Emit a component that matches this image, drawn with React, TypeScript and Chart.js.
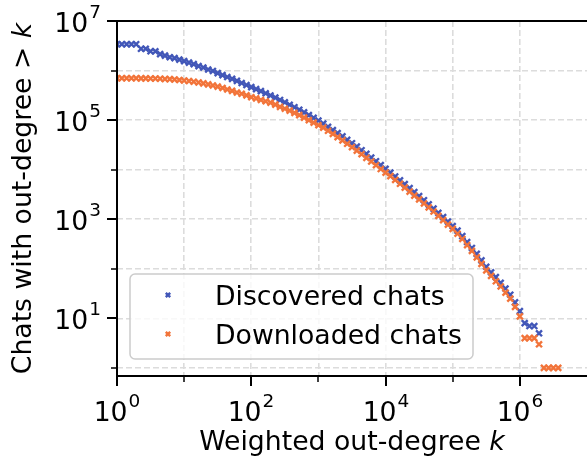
import React, { useEffect, useRef } from "react";
import { Chart, registerables } from "chart.js";

Chart.register(...registerables);

// ---------- data ----------
const degreeK = [
  1, 1.18, 1.39, 1.64, 1.93, 2.28, 2.68, 3.16, 3.73, 4.39, 5.18, 6.11, 7.2, 8.48,
  10, 11.8, 13.9, 16.4, 19.3, 22.8, 26.8, 31.6, 37.3, 43.9, 51.8, 61.1, 72, 84.8,
  100, 118, 139, 164, 193, 228, 268, 316, 373, 439, 518, 611, 720, 848,
  1000, 1180, 1390, 1640, 1930, 2280, 2680, 3160, 3730, 4390, 5180, 6110, 7200, 8480,
  1e4, 1.18e4, 1.39e4, 1.64e4, 1.93e4, 2.28e4, 2.68e4, 3.16e4, 3.73e4, 4.39e4, 5.18e4, 6.11e4, 7.2e4, 8.48e4,
  1e5, 1.18e5, 1.39e5, 1.64e5, 1.93e5, 2.28e5, 2.68e5, 3.16e5, 3.73e5, 4.39e5, 5.18e5, 6.11e5, 7.2e5, 8.48e5,
  1e6, 1.18e6, 1.39e6, 1.64e6, 1.93e6, 2.28e6, 2.68e6, 3.16e6, 3.73e6,
];

const discoveredChats = [
  3.4e6, 3.4e6, 3.4e6, 3.4e6, 3.4e6, 2.75e6, 2.75e6, 2.45e6, 2.45e6, 2.14e6, 2.0e6, 1.86e6, 1.78e6, 1.66e6,
  1.55e6, 1.45e6, 1.35e6, 1.23e6, 1.15e6, 1.05e6, 9.8e5, 8.9e5, 8.1e5, 7.4e5, 6.8e5, 6.2e5, 5.6e5, 5.1e5,
  4.62e5, 4.22e5, 3.84e5, 3.48e5, 3.14e5, 2.84e5, 2.55e5, 2.29e5, 2.04e5, 1.82e5, 1.62e5, 1.43e5, 1.26e5, 1.11e5,
  9.8e4, 8.5e4, 7.3e4, 6.3e4, 5.46e4, 4.69e4, 4.0e4, 3.42e4, 2.91e4, 2.47e4, 2.08e4, 1.76e4, 1.48e4, 1.24e4,
  1.04e4, 8.7e3, 7.3e3, 6.1e3, 5.1e3, 4.24e3, 3.52e3, 2.92e3, 2.42e3, 1.99e3, 1.64e3, 1.34e3, 1.1e3, 900,
  730, 590, 457, 347, 263, 200, 148, 110, 85, 68, 52, 40, 30, 21,
  14, 8, 7, 7, 5,
];

const downloadedChats = [
  7.0e5, 7.0e5, 7.0e5, 7.0e5, 7.0e5, 6.95e5, 6.95e5, 6.9e5, 6.9e5, 6.85e5, 6.75e5, 6.7e5, 6.6e5, 6.45e5,
  6.3e5, 6.15e5, 5.95e5, 5.75e5, 5.5e5, 5.25e5, 5.0e5, 4.75e5, 4.45e5, 4.15e5, 3.9e5, 3.6e5, 3.4e5, 3.15e5,
  2.9e5, 2.75e5, 2.55e5, 2.4e5, 2.25e5, 2.05e5, 1.85e5, 1.7e5, 1.55e5, 1.4e5, 1.26e5, 1.12e5, 1.0e5, 8.9e4,
  7.9e4, 7.06e4, 6.1e4, 5.27e4, 4.54e4, 3.9e4, 3.33e4, 2.84e4, 2.42e4, 2.05e4, 1.73e4, 1.46e4, 1.23e4, 1.03e4,
  8.7e3, 7.4e3, 6.2e3, 5.2e3, 4.34e3, 3.6e3, 2.99e3, 2.51e3, 2.08e3, 1.73e3, 1.43e3, 1.17e3, 960, 780,
  640, 510, 400, 300, 230, 170, 126, 93, 72, 56, 44, 33, 25, 17,
  11, 4, 4, 4, 3, 1, 1, 1, 1,
];

const seriesNames = ["Discovered chats", "Downloaded chats"];
const xTickValues = [1, 10, 100, 1e3, 1e4, 1e5, 1e6];
const yTickValues = [1, 10, 100, 1e3, 1e4, 1e5, 1e6, 1e7];
const xLabelExponents = [0, 2, 4, 6];
const yLabelExponents = [1, 3, 5, 7];
const xTitle = "Weighted out-degree ";
const yTitle = "Chats with out-degree > ";
const titleVar = "k";

// ---------- styles ----------
const BLUE = "#4257b8";
const ORANGE = "#f2743a";
const GRID = "#dcdcdc";
const FONT = "DejaVu Sans";
const FS = 26.7;
const SUP_FS = 18.5;

function exponentOf(v: number) {
  return Math.round(Math.log10(v));
}

function drawPower(ctx: CanvasRenderingContext2D, exp: number, x: number, baseline: number, align: "center" | "right") {
  ctx.font = `${FS}px "${FONT}"`;
  const wb = ctx.measureText("10").width;
  ctx.font = `${SUP_FS}px "${FONT}"`;
  const ws = ctx.measureText(String(exp)).width;
  const total = wb + ws + 1;
  const x0 = align === "center" ? x - total / 2 : x - total;
  ctx.textAlign = "left";
  ctx.textBaseline = "alphabetic";
  ctx.font = `${FS}px "${FONT}"`;
  ctx.fillText("10", x0, baseline);
  ctx.font = `${SUP_FS}px "${FONT}"`;
  ctx.fillText(String(exp), x0 + wb + 1, baseline - 14);
}

function drawCross(ctx: CanvasRenderingContext2D, x: number, y: number, r: number, color: string) {
  ctx.strokeStyle = color;
  ctx.lineWidth = 2.4;
  ctx.beginPath();
  ctx.moveTo(x - r, y - r);
  ctx.lineTo(x + r, y + r);
  ctx.moveTo(x - r, y + r);
  ctx.lineTo(x + r, y - r);
  ctx.stroke();
}

const decorPlugin = {
  id: "decor",
  afterDatasetsDraw(chart: any) {
    const { ctx, chartArea: a, scales } = chart;
    const xs = scales.x;
    const ys = scales.y;
    ctx.save();
    ctx.setLineDash([]);
    ctx.strokeStyle = "#000";
    // spines
    ctx.lineWidth = 2;
    ctx.beginPath();
    ctx.moveTo(a.left - 1, a.top);
    ctx.lineTo(a.right + 2, a.top);
    ctx.moveTo(a.left, a.top - 1);
    ctx.lineTo(a.left, a.bottom + 1);
    ctx.moveTo(a.left - 1, a.bottom);
    ctx.lineTo(a.right + 2, a.bottom);
    ctx.stroke();
    // tick marks + labels
    ctx.fillStyle = "#000";
    xTickValues.forEach((v) => {
      const px = Math.round(xs.getPixelForValue(v));
      const e = exponentOf(v);
      const major = xLabelExponents.includes(e);
      ctx.strokeStyle = "#000";
      ctx.lineWidth = major ? 2 : 1.5;
      ctx.beginPath();
      ctx.moveTo(px, a.bottom);
      ctx.lineTo(px, a.bottom + (major ? 10 : 6));
      ctx.stroke();
      if (major) drawPower(ctx, e, px, a.bottom + 45, "center");
    });
    yTickValues.forEach((v) => {
      const py = Math.round(ys.getPixelForValue(v));
      const e = exponentOf(v);
      const major = yLabelExponents.includes(e);
      ctx.strokeStyle = "#000";
      ctx.lineWidth = major ? 2 : 1.5;
      ctx.beginPath();
      ctx.moveTo(a.left, py);
      ctx.lineTo(a.left - (major ? 10 : 6), py);
      ctx.stroke();
      if (major) drawPower(ctx, e, a.left - 16, py + 11, "right");
    });

    // axis titles
    ctx.fillStyle = "#000";
    ctx.textBaseline = "alphabetic";
    ctx.textAlign = "left";
    const normal = `${FS}px "${FONT}"`;
    const italic = `italic ${FS}px "${FONT}"`;
    ctx.font = normal;
    const w1 = ctx.measureText(xTitle).width;
    ctx.font = italic;
    const w2 = ctx.measureText(titleVar).width;
    const cx = (a.left + a.right) / 2;
    const x0 = cx - (w1 + w2) / 2;
    ctx.font = normal;
    ctx.fillText(xTitle, x0, 450);
    ctx.font = italic;
    ctx.fillText(titleVar, x0 + w1, 450);
    ctx.save();
    ctx.translate(31, (a.top + a.bottom) / 2);
    ctx.rotate(-Math.PI / 2);
    ctx.font = normal;
    const v1 = ctx.measureText(yTitle).width;
    ctx.font = italic;
    const v2 = ctx.measureText(titleVar).width;
    const y0 = -(v1 + v2) / 2;
    ctx.font = normal;
    ctx.fillText(yTitle, y0, 0);
    ctx.font = italic;
    ctx.fillText(titleVar, y0 + v1, 0);
    ctx.restore();

    // legend
    const lx = a.left + 13;
    const lw = 343;
    const lh = 85;
    const ly = a.bottom - 17 - lh;
    ctx.fillStyle = "rgba(255,255,255,0.8)";
    ctx.strokeStyle = "#cccccc";
    ctx.lineWidth = 1.5;
    ctx.beginPath();
    (ctx as any).roundRect(lx, ly, lw, lh, 5);
    ctx.fill();
    ctx.stroke();
    const colors = [BLUE, ORANGE];
    seriesNames.forEach((name, i) => {
      const ry = ly + 21 + i * 39;
      drawCross(ctx, lx + 38, ry, 2.2, colors[i]);
      ctx.fillStyle = "#000";
      ctx.font = normal;
      ctx.textBaseline = "alphabetic";
      ctx.fillText(name, lx + 85, ry + 10);
    });
    ctx.restore();
  },
};

export default function App() {
  const ref = useRef<HTMLCanvasElement | null>(null);

  useEffect(() => {
    if (!ref.current) return;
    const makeData = (vals: number[]) => vals.map((y, i) => ({ x: degreeK[i], y }));
    const zeroPad = (s: any) => {
      s.paddingTop = 0;
      s.paddingBottom = 0;
      s.paddingLeft = 0;
      s.paddingRight = 0;
    };
    const chart = new Chart(ref.current, {
      type: "scatter",
      data: {
        datasets: [
          {
            label: seriesNames[0],
            data: makeData(discoveredChats),
            pointStyle: "crossRot",
            pointRadius: 4.2,
            pointBorderWidth: 2.4,
            borderColor: BLUE,
            backgroundColor: BLUE,
            showLine: false,
            order: 1,
            clip: 0,
          } as any,
          {
            label: seriesNames[1],
            data: makeData(downloadedChats),
            pointStyle: "crossRot",
            pointRadius: 4.2,
            pointBorderWidth: 2.4,
            borderColor: ORANGE,
            backgroundColor: ORANGE,
            showLine: false,
            order: 0,
            clip: 0,
          } as any,
        ],
      },
      options: {
        animation: false,
        responsive: false,
        devicePixelRatio: 1,
        layout: { autoPadding: false, padding: { top: 21, right: 0, bottom: 0, left: 0 } },
        plugins: { legend: { display: false }, tooltip: { enabled: false } },
        scales: {
          x: {
            type: "logarithmic",
            position: "bottom",
            min: 1,
            max: 1e7,
            afterBuildTicks: (s: any) => {
              s.ticks = xTickValues.map((v) => ({ value: v }));
            },
            afterFit: (s: any) => {
              s.height = 85;
              zeroPad(s);
            },
            grid: { color: GRID, lineWidth: 1.6, drawTicks: false },
            border: { display: false, dash: [6, 3] },
            ticks: { display: false },
          },
          y: {
            type: "logarithmic",
            position: "left",
            min: 0.687,
            max: 1e7,
            afterBuildTicks: (s: any) => {
              s.ticks = yTickValues.map((v) => ({ value: v }));
            },
            afterFit: (s: any) => {
              s.width = 117;
              zeroPad(s);
            },
            grid: { color: GRID, lineWidth: 1.6, drawTicks: false },
            border: { display: false, dash: [6, 3] },
            ticks: { display: false },
          },
        },
      } as any,
      plugins: [decorPlugin],
    });
    return () => chart.destroy();
  }, []);

  return (
    <div style={{ position: "absolute", left: 0, top: 0, width: 587, height: 461 }}>
      <canvas ref={ref} width={587} height={461} style={{ display: "block" }} />
    </div>
  );
}
